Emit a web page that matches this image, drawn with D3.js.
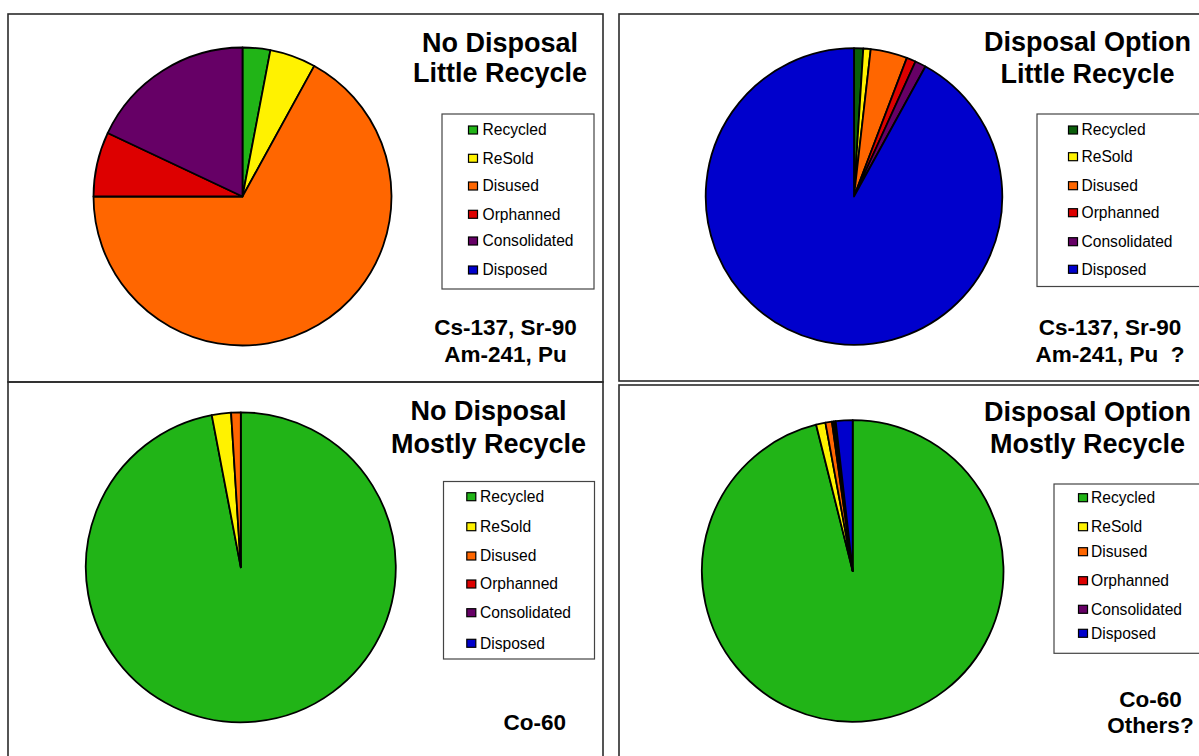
<!DOCTYPE html>
<html>
<head>
<meta charset="utf-8">
<script src="https://cdn.jsdelivr.net/npm/d3@7"></script>
<style>
  html, body { margin: 0; padding: 0; background: #fff; }
  svg { display: block; }
  text { font-family: "Liberation Sans", Arial, Helvetica, sans-serif; fill: #000; }
</style>
</head>
<body>
<svg id="chart" width="1199" height="756"></svg>
<script>
// Source categories, in legend order
const categories = ["Recycled", "ReSold", "Disused", "Orphanned", "Consolidated", "Disposed"];

// Share of sources (%) per scenario
const noDisposalLittleRecycle = [3, 5, 67, 7, 18, 0];
const disposalLittleRecycle   = [1, 0.8, 4, 1, 1.2, 92];
const noDisposalMostlyRecycle = [97, 2, 1, 0, 0, 0];
const disposalMostlyRecycle   = [96.1, 1, 0.7, 0.2, 0.2, 1.8];

// Titles and isotope notes
const titles = [
  ["No Disposal", "Little Recycle"],
  ["Disposal Option", "Little Recycle"],
  ["No Disposal", "Mostly Recycle"],
  ["Disposal Option", "Mostly Recycle"]
];
const notes = [
  ["Cs-137, Sr-90", "Am-241, Pu"],
  ["Cs-137, Sr-90", "Am-241, Pu  ?"],
  ["Co-60"],
  ["Co-60", "Others?"]
];

// Slice colours
const palette = ["#21B417", "#FFF200", "#FF6600", "#DD0000", "#660066", "#0000CC"];
const paletteDark = ["#0A5E0A", "#FFF200", "#FF6600", "#DD0000", "#660066", "#0000CC"];

const series = [noDisposalLittleRecycle, disposalLittleRecycle, noDisposalMostlyRecycle, disposalMostlyRecycle];
const palettes = [palette, paletteDark, palette, palette];

// Panel layout
const panels = [
  { frame: [8, 14, 595, 368], cx: 242.5, cy: 196.5, r: 149,
    titleX: 500, titleY: [51.7, 81.7],
    noteX: 505.5, noteY: [335, 361.7],
    legend: { box: [442, 114, 152, 175], swX: 468.5, txtX: 482.5, rows: [130, 158.3, 186, 214.3, 241, 270] } },
  { frame: [619, 14, 620, 367], cx: 854, cy: 196.5, r: 148.3,
    titleX: 1087.5, titleY: [50.7, 82.7],
    noteX: 1110, noteY: [335, 361.7],
    legend: { box: [1037, 114, 200, 172.5], swX: 1068.5, txtX: 1081.5, rows: [130, 156.7, 185.7, 212.7, 241.7, 269.3] } },
  { frame: [8, 382, 595, 420], cx: 240.8, cy: 567.3, r: 155,
    titleX: 488.5, titleY: [420, 453.3],
    noteX: 534.7, noteY: [730],
    legend: { box: [443.5, 481.5, 151, 177.5], swX: 466.8, txtX: 480, rows: [496.7, 526.7, 556, 584, 612.7, 643.3] } },
  { frame: [619, 385, 620, 420], cx: 852.7, cy: 571, r: 150.8,
    titleX: 1087.5, titleY: [420.7, 453.3],
    noteX: 1150.5, noteY: [706.7, 733.3],
    legend: { box: [1054, 484, 200, 169.3], swX: 1078.5, txtX: 1091, rows: [497.7, 526.7, 551.7, 580.7, 609.3, 633.3] } }
];

const svg = d3.select("#chart");

const pie = d3.pie().sort(null).value(d => d.value).startAngle(0).endAngle(2 * Math.PI);

panels.forEach((p, i) => {
  const g = svg.append("g");

  // panel frame
  g.append("rect")
    .attr("x", p.frame[0]).attr("y", p.frame[1])
    .attr("width", p.frame[2]).attr("height", p.frame[3])
    .attr("fill", "none").attr("stroke", "#2b2b2b").attr("stroke-width", 1.6);

  const colour = d3.scaleOrdinal().domain(categories).range(palettes[i]);
  const data = categories.map((c, k) => ({ cat: c, value: series[i][k] }));
  const arc = d3.arc().innerRadius(0).outerRadius(p.r);

  const pg = g.append("g").attr("transform", `translate(${p.cx},${p.cy})`);
  pg.selectAll("path")
    .data(pie(data).filter(d => d.data.value > 0))
    .join("path")
    .attr("d", arc)
    .attr("fill", d => colour(d.data.cat))
    .attr("stroke", "#000")
    .attr("stroke-width", 1.8)
    .attr("stroke-linejoin", "round");

  // title
  const t = g.append("text")
    .attr("text-anchor", "middle")
    .attr("font-size", 27).attr("font-weight", "bold");
  titles[i].forEach((line, k) => {
    t.append("tspan").attr("x", p.titleX).attr("y", p.titleY[k]).text(line);
  });

  // isotope note
  const n = g.append("text")
    .attr("text-anchor", "middle")
    .attr("font-size", 22.5).attr("font-weight", "bold")
    .style("white-space", "pre");
  notes[i].forEach((line, k) => {
    n.append("tspan").attr("x", p.noteX).attr("y", p.noteY[k]).text(line);
  });

  // legend
  const L = p.legend;
  const lg = g.append("g");
  lg.append("rect")
    .attr("x", L.box[0]).attr("y", L.box[1])
    .attr("width", L.box[2]).attr("height", L.box[3])
    .attr("fill", "#fff").attr("stroke", "#444").attr("stroke-width", 1.2);
  const rows = lg.selectAll("g.row").data(categories).join("g").attr("class", "row");
  rows.append("rect")
    .attr("x", L.swX).attr("y", (d, k) => L.rows[k] - 4)
    .attr("width", 9).attr("height", 8)
    .attr("fill", d => colour(d))
    .attr("stroke", "#000").attr("stroke-width", 1.2);
  rows.append("text")
    .attr("x", L.txtX).attr("y", (d, k) => L.rows[k] + 5.4)
    .attr("font-size", 15.6)
    .text(d => d);
});
</script>
</body>
</html>
